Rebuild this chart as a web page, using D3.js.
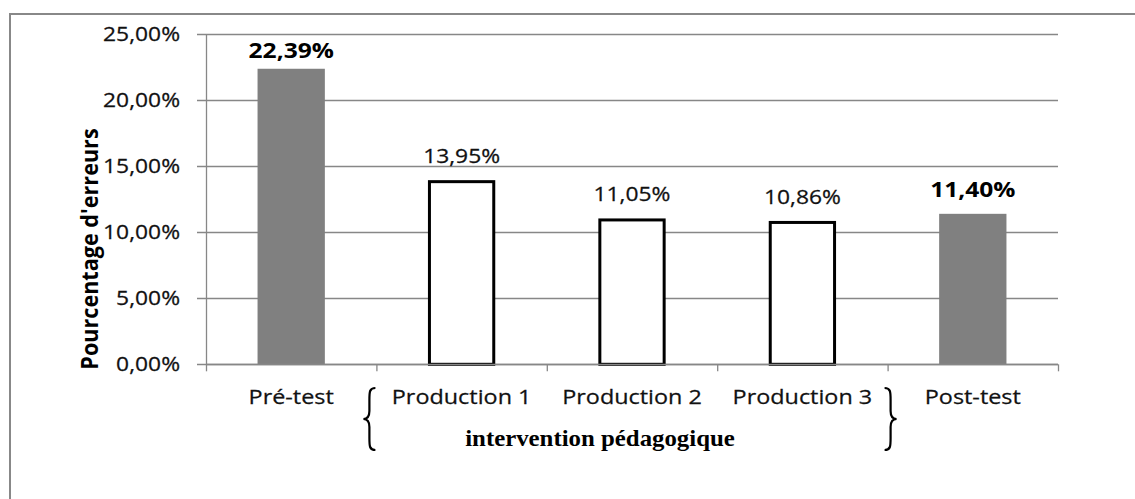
<!DOCTYPE html>
<html>
<head>
<meta charset="utf-8">
<script src="https://cdn.jsdelivr.net/npm/d3@7"></script>
<style>
  body { margin: 0; background: #fff; }
  svg { display: block; }
</style>
</head>
<body>
<svg id="chart" width="1135" height="499"></svg>
<script>
// data
const categories = ["Pré-test", "Production 1", "Production 2", "Production 3", "Post-test"];
const values = [22.39, 13.95, 11.05, 10.86, 11.40];
const kinds = ["test", "production", "production", "production", "test"];
const yTicks = [0, 5, 10, 15, 20, 25];
const groupLabel = "intervention pédagogique";
const yTitle = "Pourcentage d'erreurs";

const fr = d3.formatLocale({decimal: ",", thousands: " ", grouping: [3], currency: ["", " €"]});
const pct = v => fr.format(".2f")(v) + "%";

const sx = 1.17; // the original chart is stretched horizontally
const font = "'Open Sans', sans-serif";
const grid = "#878787";
const ink = "#111";

const svg = d3.select("#chart");

// outer frame
svg.append("rect")
  .attr("x", 10).attr("y", 14)
  .attr("width", 1200).attr("height", 600)
  .attr("fill", "none").attr("stroke", "#888").attr("stroke-width", 2);

const x = d3.scaleBand().domain(categories).range([206, 1058]).padding(0);
const y = d3.scaleLinear().domain([0, 25]).range([364.3, 34.3]);
const barW = x.bandwidth() * 0.395;

// gridlines
svg.append("g").selectAll("line")
  .data(yTicks)
  .join("line")
  .attr("x1", 197).attr("x2", 1058)
  .attr("y1", d => Math.round(y(d)) + 0.5).attr("y2", d => Math.round(y(d)) + 0.5)
  .attr("stroke", grid).attr("stroke-width", 1.3);

// y axis line
svg.append("line")
  .attr("x1", 206.5).attr("x2", 206.5)
  .attr("y1", y(25)).attr("y2", y(0))
  .attr("stroke", grid).attr("stroke-width", 1.3);

// y tick labels
svg.append("g").selectAll("text")
  .data(yTicks)
  .join("text")
  .attr("transform", d => `translate(180,${y(d)}) scale(${sx},1)`)
  .attr("dy", "0.36em")
  .attr("text-anchor", "end")
  .attr("font-family", font).attr("font-size", 19.5)
  .attr("fill", ink).attr("stroke", ink).attr("stroke-width", 0.25)
  .text(d => pct(d));

// x tick marks at band edges
const edges = categories.map(c => x(c)).concat([x.range()[1]]);
svg.append("g").selectAll("line")
  .data(edges)
  .join("line")
  .attr("x1", d => d + 0.5).attr("x2", d => d + 0.5)
  .attr("y1", y(0)).attr("y2", y(0) + 7)
  .attr("stroke", grid).attr("stroke-width", 1.3);

// bars
const rows = categories.map((c, i) => ({cat: c, v: values[i], kind: kinds[i]}));
svg.append("g").selectAll("rect")
  .data(rows)
  .join("rect")
  .attr("x", d => x(d.cat) + (x.bandwidth() - barW) / 2 + (d.kind === "test" ? 0 : 1.5))
  .attr("y", d => y(d.v) + (d.kind === "test" ? 0 : 1.5))
  .attr("width", d => barW - (d.kind === "test" ? 0 : 3))
  .attr("height", d => y(0) - y(d.v) - (d.kind === "test" ? 0 : 1.5))
  .attr("fill", d => d.kind === "test" ? "#808080" : "#fff")
  .attr("stroke", d => d.kind === "test" ? "none" : "#000")
  .attr("stroke-width", 3);

// x axis line on top of bars
svg.append("line")
  .attr("x1", 206).attr("x2", 1058)
  .attr("y1", Math.round(y(0)) + 0.5).attr("y2", Math.round(y(0)) + 0.5)
  .attr("stroke", grid).attr("stroke-width", 1.3);

// value labels
svg.append("g").selectAll("text")
  .data(rows)
  .join("text")
  .attr("transform", d => `translate(${x(d.cat) + x.bandwidth() / 2},${Math.max(y(d.v) - 17, 57.7)}) scale(${sx},1)`)
  .attr("text-anchor", "middle")
  .attr("font-family", font)
  .attr("font-size", d => d.kind === "test" ? 21 : 19.5)
  .attr("font-weight", d => d.kind === "test" ? 700 : 400)
  .attr("fill", d => d.kind === "test" ? "#000" : ink)
  .attr("stroke", d => d.kind === "test" ? "none" : ink).attr("stroke-width", 0.25)
  .text(d => pct(d.v));

// category labels
svg.append("g").selectAll("text")
  .data(categories)
  .join("text")
  .attr("transform", d => `translate(${x(d) + x.bandwidth() / 2},404) scale(${sx},1)`)
  .attr("text-anchor", "middle")
  .attr("font-family", font).attr("font-size", 20)
  .attr("fill", ink).attr("stroke", ink).attr("stroke-width", 0.25)
  .text(d => d);

// y title (rotated, so the horizontal stretch does not lengthen it)
svg.append("text")
  .attr("transform", `translate(98,249) rotate(-90) scale(0.9,1)`)
  .attr("text-anchor", "middle")
  .attr("font-family", font).attr("font-size", 24).attr("font-weight", 700)
  .attr("fill", "#000")
  .text(yTitle);

// braces around the intervention group
function brace(cx, top, bot, dir) {
  const mid = (top + bot) / 2, w = 6 * dir;
  return `M${cx + w},${top} C${cx},${top} ${cx},${top + 4} ${cx},${top + 12} L${cx},${mid - 8}
          C${cx},${mid - 2} ${cx - w * 0.4},${mid} ${cx - w},${mid}
          C${cx - w * 0.4},${mid} ${cx},${mid + 2} ${cx},${mid + 8} L${cx},${bot - 12}
          C${cx},${bot - 4} ${cx},${bot} ${cx + w},${bot}`;
}
const gLeft = x("Production 1"), gRight = x("Production 3") + x.bandwidth();
svg.append("path").attr("d", brace(gLeft - 7, 388, 450, 1))
  .attr("fill", "none").attr("stroke", "#000").attr("stroke-width", 2.2);
svg.append("path").attr("d", brace(gRight + 3, 388, 450, -1))
  .attr("fill", "none").attr("stroke", "#000").attr("stroke-width", 2.2);

svg.append("text")
  .attr("transform", `translate(600,446) scale(1.08,1)`)
  .attr("text-anchor", "middle")
  .attr("font-family", "'Liberation Serif', serif").attr("font-size", 23).attr("font-weight", 700)
  .attr("fill", "#000")
  .text(groupLabel);
</script>
</body>
</html>
